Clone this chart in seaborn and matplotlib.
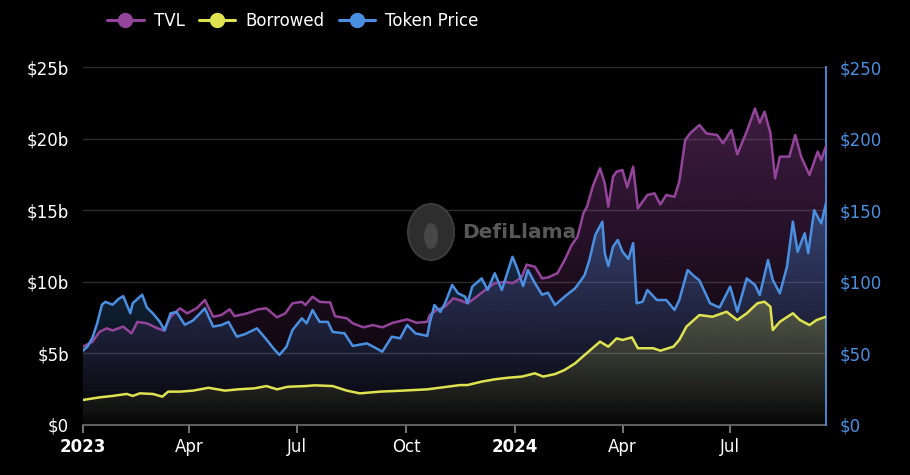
import numpy as np
import pandas as pd
import matplotlib
matplotlib.use("Agg")
import matplotlib.pyplot as plt
import matplotlib.dates as mdates
from matplotlib.patches import Polygon, Ellipse
from matplotlib.lines import Line2D
import seaborn as sns

START = "2023-01-01"
END_DAY = 628

# TVL ($b): day offset from START, value
tvl_days = [0, 8, 14, 20, 25, 34, 41, 46, 54, 63, 68, 74, 82, 88, 96, 103, 110, 117, 124, 128,
            139, 148, 155, 164, 171, 177, 185, 188, 194, 200, 209, 213, 223, 228, 237, 245, 253,
            262, 274, 282, 291, 293, 299, 306, 313, 319, 325, 331, 340, 348, 357, 363, 367, 371,
            375, 382, 388, 393, 401, 407, 413, 418, 423, 426, 431, 437, 441, 444, 448, 451, 456,
            460, 465, 469, 477, 483, 488, 493, 500, 504, 509, 513, 521, 527, 536, 541, 548, 553,
            561, 568, 572, 576, 581, 585, 589, 597, 602, 607, 614, 621, 624, 628]
tvl_values = [5.47, 5.82, 6.5, 6.75, 6.6, 6.87, 6.4, 7.2, 7.1, 6.75, 6.6, 7.56, 8.15, 7.8, 8.15,
              8.73, 7.56, 7.68, 8.08, 7.6, 7.8, 8.08, 8.15, 7.52, 7.8, 8.5, 8.6, 8.38, 8.96, 8.6,
              8.56, 7.6, 7.45, 7.1, 6.82, 6.98, 6.82, 7.14, 7.38, 7.14, 7.21, 7.68, 8.03, 8.26,
              8.85, 8.7, 8.5, 8.85, 9.43, 9.9, 10.0, 9.9, 10.1, 10.36, 11.2, 11.05, 10.24, 10.3,
              10.6, 11.5, 12.57, 13.15, 14.8, 15.25, 16.7, 17.92, 16.88, 15.25, 17.34, 17.69, 17.8,
              16.6, 18.04, 15.13, 16.06, 16.18, 15.4, 16.06, 15.94, 17.0, 19.9, 20.36, 20.95,
              20.36, 20.25, 19.67, 20.6, 18.9, 20.5, 22.1, 21.1, 21.88, 20.4, 17.22, 18.74, 18.74,
              20.25, 18.74, 17.46, 19.09, 18.5, 19.5]

# Token price ($)
price_days = [0, 4, 8, 12, 16, 19, 25, 30, 34, 40, 42, 50, 54, 59, 65, 69, 74, 79, 86, 93, 99,
              103, 110, 117, 123, 130, 137, 147, 155, 161, 166, 172, 177, 185, 189, 194, 200, 207,
              211, 221, 228, 240, 248, 253, 261, 268, 274, 281, 291, 293, 297, 302, 306, 312, 317,
              323, 325, 329, 337, 342, 348, 354, 363, 367, 372, 376, 382, 388, 393, 399, 407, 416,
              420, 424, 428, 433, 439, 441, 444, 448, 452, 456, 461, 465, 468, 473, 477, 485, 493,
              500, 504, 511, 517, 521, 530, 538, 547, 553, 561, 568, 572, 579, 583, 589, 595, 600,
              604, 610, 613, 618, 624, 628]
price_values = [51.9, 55, 61, 71, 84, 86, 84, 88, 90, 78, 85, 91, 82, 78, 72, 66, 78, 79, 70, 73,
                78, 81.5, 68.7, 69.8, 72, 61.7, 63.5, 67.5, 59.8, 53.5, 48.9, 54.7, 66.3, 74.5, 71,
                80.3, 72, 72, 65, 64, 55.2, 57, 53.5, 51.2, 61.7, 60.5, 69.8, 64, 62.2, 71, 83.8,
                79, 85, 97.8, 92, 89.6, 85, 96.6, 102.4, 94.3, 106, 94.3, 117.5, 109.4, 97, 108.2,
                99, 91, 92.4, 83.8, 89.6, 95.5, 100, 104.7, 115.2, 132.7, 142, 120, 111, 124.5,
                129.2, 121, 116, 127, 85, 86.1, 94.3, 87.3, 87.3, 80.3, 87.3, 108.2, 103.6, 101,
                85, 82, 96.6, 79.1, 102.4, 97.8, 90.8, 115.2, 101.3, 92, 110.5, 142, 121, 133.9,
                120, 150, 140.8, 155]

# Borrowed ($b)
borrowed_days = [0, 14, 25, 37, 42, 48, 59, 67, 72, 82, 93, 106, 120, 131, 145, 155, 164, 173,
                 188, 196, 211, 223, 234, 251, 270, 291, 304, 319, 325, 337, 348, 359, 371, 382,
                 389, 399, 407, 416, 424, 437, 444, 451, 456, 464, 469, 482, 488, 499, 504, 510,
                 521, 532, 544, 553, 561, 570, 576, 581, 583, 589, 600, 606, 614, 620, 628]
borrowed_values = [1.75, 1.93, 2.03, 2.17, 2.03, 2.21, 2.17, 1.98, 2.33, 2.33, 2.4, 2.6, 2.4, 2.49,
                   2.56, 2.72, 2.49, 2.67, 2.72, 2.77, 2.72, 2.4, 2.21, 2.33, 2.4, 2.49, 2.63,
                   2.79, 2.79, 3.03, 3.19, 3.3, 3.38, 3.61, 3.38, 3.56, 3.84, 4.31, 4.89, 5.82,
                   5.47, 6.05, 5.94, 6.12, 5.36, 5.36, 5.19, 5.47, 5.94, 6.87, 7.68, 7.56, 7.91,
                   7.33, 7.8, 8.5, 8.61, 8.26, 6.63, 7.21, 7.8, 7.33, 6.98, 7.33, 7.56]

series_names = ["TVL", "Borrowed", "Token Price"]
series_colors = {"TVL": "#94449b", "Borrowed": "#dfe34f", "Token Price": "#4a90e2"}

left_ticks = [0, 5, 10, 15, 20, 25]
left_labels = ["$0", "$5b", "$10b", "$15b", "$20b", "$25b"]
right_ticks = [0, 50, 100, 150, 200, 250]
right_labels = ["$0", "$50", "$100", "$150", "$200", "$250"]
x_tick_dates = ["2023-01-01", "2023-04-01", "2023-07-01", "2023-10-01",
                "2024-01-01", "2024-04-01", "2024-07-01"]
x_tick_labels = ["2023", "Apr", "Jul", "Oct", "2024", "Apr", "Jul"]


def make_df(days, values):
    return pd.DataFrame({
        "date": pd.Timestamp(START) + pd.to_timedelta(days, unit="D"),
        "value": values,
    })


tvl_df = make_df(tvl_days, tvl_values)
price_df = make_df(price_days, price_values)
borrowed_df = make_df(borrowed_days, borrowed_values)

sns.set_theme(style="dark")
plt.rcParams["font.family"] = ["DejaVu Sans"]

W, H = 910, 475
fig = plt.figure(figsize=(W / 100, H / 100), dpi=100, facecolor="black")
ax = fig.add_axes([83 / W, 1 - 425 / H, (826 - 83) / W, (425 - 67) / H])
ax.set_facecolor("black")
ax2 = ax.twinx()
ax2.patch.set_visible(False)

x0 = pd.Timestamp(START)
x1 = x0 + pd.Timedelta(days=END_DAY)
ax.set_xlim(x0, x1)
ax.set_ylim(0, 25)
ax2.set_ylim(0, 250)


def gradient_fill(draw_ax, trans, df, color, a_top, a_bot, zorder):
    x = mdates.date2num(df["date"])
    y = df["value"].to_numpy(dtype=float)
    rgb = matplotlib.colors.to_rgb(color)
    n = 256
    grad = np.zeros((n, 1, 4))
    grad[:, 0, :3] = rgb
    grad[:, 0, 3] = np.linspace(a_top, a_bot, n)
    im = draw_ax.imshow(grad, aspect="auto", origin="upper",
                        extent=[x.min(), x.max(), 0, y.max()], zorder=zorder,
                        interpolation="bilinear", transform=trans)
    verts = np.vstack([[x[0], 0], np.column_stack([x, y]), [x[-1], 0]])
    poly = Polygon(verts, closed=True, facecolor="none", edgecolor="none",
                   transform=trans)
    draw_ax.add_patch(poly)
    im.set_clip_path(poly)


# Everything is drawn on the top (twin) axes so the stacking matches the source;
# TVL and Borrowed use the left axis' data transform (billions scale).
left_t = ax.transData
right_t = ax2.transData

gradient_fill(ax2, left_t, tvl_df, series_colors["TVL"], 0.42, 0.02, 1)
gradient_fill(ax2, right_t, price_df, series_colors["Token Price"], 0.38, 0.02, 2)
gradient_fill(ax2, left_t, borrowed_df, series_colors["Borrowed"], 0.26, 0.02, 3)

sns.lineplot(data=tvl_df, x="date", y="value", ax=ax2, color=series_colors["TVL"],
             lw=1.8, zorder=5, transform=left_t)
sns.lineplot(data=price_df, x="date", y="value", ax=ax2, color=series_colors["Token Price"],
             lw=1.8, zorder=6)
sns.lineplot(data=borrowed_df, x="date", y="value", ax=ax2, color=series_colors["Borrowed"],
             lw=1.8, zorder=7, transform=left_t)

ax.set_xlim(x0, x1)
ax2.set_xlim(x0, x1)
ax.set_ylim(0, 25)
ax2.set_ylim(0, 250)

for a in (ax, ax2):
    a.set_xlabel("")
    a.set_ylabel("")

ax.set_yticks(left_ticks)
ax.set_yticklabels(left_labels)
ax2.set_yticks(right_ticks)
ax2.set_yticklabels(right_labels)
ax.set_xticks([pd.Timestamp(d) for d in x_tick_dates])
ax.set_xticklabels(x_tick_labels)
for lbl in ax.get_xticklabels():
    if lbl.get_text() in ("2023", "2024"):
        lbl.set_fontweight("bold")

ax.grid(False)
ax2.grid(False)
ax.yaxis.grid(True, color="#2c2c2c", lw=1.0)
ax.set_axisbelow(True)

for s in ["left", "top", "right"]:
    ax.spines[s].set_visible(False)
ax.spines["bottom"].set_color("#6f6f6f")
ax.spines["bottom"].set_linewidth(1.2)
for s in ["left", "top", "bottom"]:
    ax2.spines[s].set_visible(False)
ax2.spines["right"].set_color(series_colors["Token Price"])
ax2.spines["right"].set_linewidth(1.3)

ax.tick_params(axis="x", colors="#8a8a8a", labelcolor="white", labelsize=12,
               length=6, width=1.2, direction="out", pad=3, bottom=True)
ax.tick_params(axis="y", labelcolor="white", labelsize=12, length=0, pad=10, left=False)
ax2.tick_params(axis="y", labelcolor=series_colors["Token Price"], labelsize=12,
                length=0, pad=10, right=False)
ax2.tick_params(axis="x", bottom=False, labelbottom=False)

# watermark
fig.patches.append(Ellipse((431 / W, 1 - 232 / H), 46 / W, 56 / H, transform=fig.transFigure,
                           facecolor="#2e2e2e", edgecolor="#3c3c3c", lw=1.5, zorder=0.5))
fig.patches.append(Ellipse((431 / W, 1 - 236 / H), 14 / W, 26 / H, transform=fig.transFigure,
                           facecolor="#474747", edgecolor="none", zorder=0.55))
fig.text(462 / W, 1 - 233 / H, "DefiLlama", color="#585858", fontsize=14.5,
         fontweight="bold", ha="left", va="center", zorder=0.6)

handles = [Line2D([0], [0], color=series_colors[n], lw=2.2, marker="o", markersize=10)
           for n in series_names]
leg = fig.legend(handles, series_names, loc="upper left",
                 bbox_to_anchor=(92 / W, 1 + 3 / H), ncol=3, frameon=False,
                 labelcolor="white", fontsize=12, handlelength=2.2,
                 handletextpad=0.6, columnspacing=0.85)

fig.savefig("out.png", dpi=100, facecolor="black")
